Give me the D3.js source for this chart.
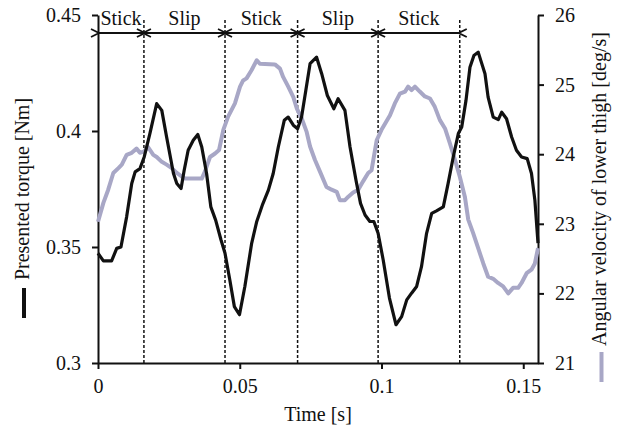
<!DOCTYPE html>
<html>
<head>
<meta charset="utf-8">
<script src="https://cdn.jsdelivr.net/npm/d3@7"></script>
<style>
  body { margin: 0; background: #fff; }
  svg text { font-family: 'Liberation Serif', 'Times New Roman', serif !important; fill: #111; }
</style>
</head>
<body>
<div id="chart"></div>
<script>
// Presented torque [Nm] over time [s]
const torqueTime = [0, 0.0019, 0.0048, 0.0066, 0.0081, 0.0101, 0.0119, 0.0131, 0.0148, 0.0163,
  0.0183, 0.0207, 0.0225, 0.0242, 0.0266, 0.0278, 0.0293, 0.0304, 0.0318, 0.0336,
  0.0352, 0.0366, 0.0383, 0.0398, 0.0415, 0.0434, 0.0448, 0.0465, 0.0481, 0.0499,
  0.0518, 0.0542, 0.0560, 0.0581, 0.0601, 0.0618, 0.0636, 0.0657, 0.0671, 0.0689,
  0.0704, 0.0718, 0.0733, 0.0748, 0.0771, 0.0789, 0.0809, 0.0832, 0.0847, 0.0871,
  0.0889, 0.0910, 0.0926, 0.0942, 0.0959, 0.0973, 0.0988, 0.1006, 0.1028, 0.1051,
  0.1071, 0.1089, 0.1106, 0.1124, 0.1141, 0.1159, 0.1177, 0.1194, 0.1218, 0.1235,
  0.1253, 0.1271, 0.1283, 0.1298, 0.1312, 0.1326, 0.1341, 0.1365, 0.1376, 0.1394,
  0.1412, 0.1424, 0.1441, 0.1459, 0.1476, 0.1494, 0.1514, 0.1529, 0.1541, 0.1552]
const torque = [0.3473, 0.3440, 0.3440, 0.3494, 0.3500, 0.3630, 0.3774, 0.3824, 0.3838, 0.3888,
  0.3989, 0.4118, 0.4089, 0.3974, 0.3818, 0.3774, 0.3752, 0.3831, 0.3917, 0.3960,
  0.3985, 0.3931, 0.3817, 0.3673, 0.3616, 0.3530, 0.3473, 0.3358, 0.3243, 0.3208,
  0.3330, 0.3516, 0.3610, 0.3685, 0.3745, 0.3817, 0.3931, 0.4046, 0.4060, 0.4025,
  0.4010, 0.4060, 0.4175, 0.4290, 0.4318, 0.4247, 0.4153, 0.4096, 0.4139, 0.4089,
  0.3931, 0.3788, 0.3688, 0.3638, 0.3610, 0.3610, 0.3559, 0.3444, 0.3280, 0.3165,
  0.3200, 0.3272, 0.3301, 0.3330, 0.3415, 0.3559, 0.3645, 0.3656, 0.3673, 0.3774,
  0.3888, 0.3989, 0.4017, 0.4132, 0.4275, 0.4325, 0.4340, 0.4247, 0.4146, 0.4060,
  0.4049, 0.4081, 0.4053, 0.3974, 0.3917, 0.3888, 0.3881, 0.3817, 0.3702, 0.3517]

// Angular velocity of lower thigh [deg/s] over time [s]
const velTime = [0, 0.0019, 0.0036, 0.0054, 0.0072, 0.0084, 0.0101, 0.0119, 0.0136, 0.0148,
  0.0163, 0.0177, 0.0195, 0.0207, 0.0225, 0.0242, 0.0260, 0.0278, 0.0295, 0.0307,
  0.0366, 0.0377, 0.0395, 0.0413, 0.0427, 0.0442, 0.0459, 0.0483, 0.0501, 0.0512,
  0.0524, 0.0542, 0.0560, 0.0571, 0.0624, 0.0642, 0.0653, 0.0671, 0.0689, 0.0701,
  0.0718, 0.0736, 0.0748, 0.0765, 0.0783, 0.0806, 0.0824, 0.0842, 0.0853, 0.0871,
  0.0883, 0.0900, 0.0918, 0.0935, 0.0953, 0.0965, 0.0983, 0.1000, 0.1030, 0.1047,
  0.1065, 0.1083, 0.1094, 0.1106, 0.1118, 0.1135, 0.1153, 0.1171, 0.1188, 0.1206,
  0.1224, 0.1241, 0.1259, 0.1276, 0.1294, 0.1306, 0.1323, 0.1341, 0.1359, 0.1376,
  0.1394, 0.1411, 0.1429, 0.1447, 0.1464, 0.1482, 0.1494, 0.1512, 0.1529, 0.1541, 0.1552]
const velocity = [23.03, 23.30, 23.49, 23.73, 23.80, 23.85, 23.99, 24.02, 24.08, 24.02,
  24.04, 24.10, 23.99, 23.96, 23.89, 23.85, 23.80, 23.73, 23.68, 23.65,
  23.65, 23.75, 23.96, 24.01, 24.06, 24.35, 24.54, 24.73, 24.97, 25.06,
  25.09, 25.21, 25.35, 25.30, 25.29, 25.23, 25.11, 24.97, 24.82, 24.66,
  24.52, 24.32, 24.11, 23.92, 23.75, 23.53, 23.49, 23.46, 23.34, 23.34,
  23.39, 23.45, 23.49, 23.61, 23.73, 23.77, 24.20, 24.35, 24.56, 24.73,
  24.87, 24.90, 24.97, 24.92, 24.97, 24.90, 24.83, 24.80, 24.68, 24.49,
  24.37, 24.16, 23.92, 23.68, 23.39, 23.06, 22.87, 22.65, 22.43, 22.24,
  22.21, 22.15, 22.10, 22.00, 22.08, 22.08, 22.15, 22.29, 22.34, 22.43, 22.65]

// Stick / slip phase boundaries [s]
const phaseBounds = [0, 0.0162, 0.0448, 0.0704, 0.0988, 0.1276]
const phaseNames = ['Stick', 'Slip', 'Stick', 'Slip', 'Stick']

const xTicks = [0, 0.05, 0.1, 0.15]
const yLeftTicks = [0.3, 0.35, 0.4, 0.45]
const yRightTicks = [21, 22, 23, 24, 25, 26]

const width = 624
const height = 428
const plotLeft = 98, plotRight = 538, plotTop = 15, plotBottom = 363
const velColor = '#a8a7c6'
const serif = "'Liberation Serif', 'Times New Roman', serif"

const svg = d3.select('#chart')
  .append('svg')
  .attr('width', width)
  .attr('height', height)
  .attr('font-family', serif)

const x = d3.scaleLinear().domain([0, 0.1552]).range([plotLeft, plotRight])
const yL = d3.scaleLinear().domain([0.3, 0.45]).range([plotBottom, plotTop])
const yR = d3.scaleLinear().domain([21, 26]).range([plotBottom, plotTop])

// Axes
const styleAxis = g => {
  g.attr('font-family', serif)
  g.select('.domain').attr('stroke', '#111').attr('stroke-width', 2)
  g.selectAll('.tick line').attr('stroke', '#111').attr('stroke-width', 2)
  g.selectAll('.tick text').style('font-size', '20px').attr('fill', '#111')
}

svg.append('g')
  .attr('transform', `translate(0, ${plotBottom})`)
  .call(d3.axisBottom(x).tickValues(xTicks).tickSize(6).tickSizeOuter(0).tickPadding(10)
    .tickFormat(d => String(d)))
  .call(styleAxis)

svg.append('g')
  .attr('transform', `translate(${plotLeft}, 0)`)
  .call(d3.axisLeft(yL).tickValues(yLeftTicks).tickSize(6).tickSizeOuter(0).tickPadding(11)
    .tickFormat(d => String(d)))
  .call(styleAxis)

svg.append('g')
  .attr('transform', `translate(${plotRight}, 0)`)
  .call(d3.axisRight(yR).tickValues(yRightTicks).tickSize(6).tickSizeOuter(0).tickPadding(11)
    .tickFormat(d => String(d)))
  .call(styleAxis)

// Phase boundaries (dashed)
svg.selectAll('line.bound')
  .data(phaseBounds.slice(1))
  .enter()
  .append('line')
  .attr('class', 'bound')
  .attr('x1', d => x(d)).attr('x2', d => x(d))
  .attr('y1', 20).attr('y2', plotBottom)
  .attr('stroke', '#111')
  .attr('stroke-width', 1.5)
  .attr('stroke-dasharray', '3,2')

// Arrowheads
const defs = svg.append('defs')
defs.append('marker')
  .attr('id', 'head')
  .attr('viewBox', '-1 -5 10 10')
  .attr('refX', 0).attr('refY', 0)
  .attr('markerUnits', 'userSpaceOnUse')
  .attr('markerWidth', 10).attr('markerHeight', 10)
  .attr('orient', 'auto-start-reverse')
  .append('path')
  .attr('d', 'M8,-4L0,0L8,4')
  .attr('fill', 'none')
  .attr('stroke', '#111')
  .attr('stroke-width', 1.8)

const phases = phaseNames.map((name, i) => ({ name, start: phaseBounds[i], end: phaseBounds[i + 1] }))

svg.selectAll('line.phase')
  .data(phases)
  .enter()
  .append('line')
  .attr('class', 'phase')
  .attr('x1', d => x(d.start) + 1).attr('x2', d => x(d.end) - 1)
  .attr('y1', 33).attr('y2', 33)
  .attr('stroke', '#111')
  .attr('stroke-width', 2)
  .attr('marker-start', 'url(#head)')
  .attr('marker-end', 'url(#head)')

svg.selectAll('text.phase')
  .data(phases)
  .enter()
  .append('text')
  .attr('class', 'phase')
  .attr('x', d => x((d.start + d.end) / 2))
  .attr('y', 25)
  .attr('text-anchor', 'middle')
  .style('font-size', '20px')
  .text(d => d.name)

// Curves
const velLine = d3.line().x((d, i) => x(velTime[i])).y(d => yR(d))
svg.append('path')
  .datum(velocity)
  .attr('d', velLine)
  .attr('fill', 'none')
  .attr('stroke', velColor)
  .attr('stroke-width', 4)
  .attr('stroke-linejoin', 'round')

const torqueLine = d3.line().x((d, i) => x(torqueTime[i])).y(d => yL(d))
svg.append('path')
  .datum(torque)
  .attr('d', torqueLine)
  .attr('fill', 'none')
  .attr('stroke', '#111')
  .attr('stroke-width', 3.2)
  .attr('stroke-linejoin', 'round')

// Axis titles with legend swatches
const midY = (plotTop + plotBottom) / 2
svg.append('text')
  .attr('transform', `translate(29, ${midY}) rotate(-90)`)
  .attr('text-anchor', 'middle')
  .style('font-size', '20px')
  .text('Presented torque [Nm]')
svg.append('line')
  .attr('x1', 24).attr('x2', 24)
  .attr('y1', 288).attr('y2', 318)
  .attr('stroke', '#111').attr('stroke-width', 4)

svg.append('text')
  .attr('transform', `translate(606, ${midY}) rotate(-90)`)
  .attr('text-anchor', 'middle')
  .style('font-size', '20px')
  .text('Angular velocity of lower thigh [deg/s]')
svg.append('line')
  .attr('x1', 601.5).attr('x2', 601.5)
  .attr('y1', 352).attr('y2', 382)
  .attr('stroke', velColor).attr('stroke-width', 4)

svg.append('text')
  .attr('x', (plotLeft + plotRight) / 2)
  .attr('y', 421)
  .attr('text-anchor', 'middle')
  .style('font-size', '20px')
  .text('Time [s]')
</script>
</body>
</html>
